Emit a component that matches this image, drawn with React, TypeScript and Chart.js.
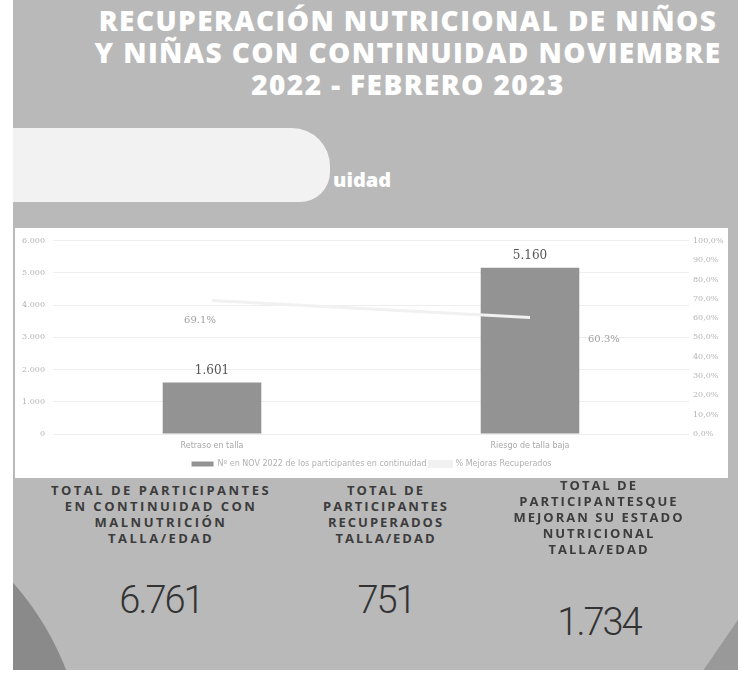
import React, { useEffect, useRef } from "react";
import { Chart, registerables } from "chart.js";

Chart.register(...registerables);

const categories = ["Retraso en talla", "Riesgo de talla baja"];
const barValues = [1601, 5160];
const lineValues = [69.1, 60.3];
const barLabel = "Nº en NOV 2022 de los participantes en continuidad";
const lineLabel = "% Mejoras Recuperados";
const leftTicks = [0, 1000, 2000, 3000, 4000, 5000, 6000];
const rightTicks = [0, 10, 20, 30, 40, 50, 60, 70, 80, 90, 100];

const titleLines = [
  "RECUPERACIÓN NUTRICIONAL DE NIÑOS",
  "Y NIÑAS CON CONTINUIDAD NOVIEMBRE",
  "2022 - FEBRERO 2023",
];
const statHeaders = [
  ["TOTAL DE PARTICIPANTES", "EN CONTINUIDAD CON", "MALNUTRICIÓN", "TALLA/EDAD"],
  ["TOTAL DE", "PARTICIPANTES", "RECUPERADOS", "TALLA/EDAD"],
  ["TOTAL DE", "PARTICIPANTESQUE", "MEJORAN SU ESTADO", "NUTRICIONAL", "TALLA/EDAD"],
];
const statValues = ["6.761", "751", "1.734"];

const fmtThousands = (v: number) =>
  Math.round(v).toString().replace(/\B(?=(\d{3})+(?!\d))/g, ".");

const labelsPlugin = {
  id: "valueLabels",
  afterDatasetsDraw(chart: any) {
    const ctx = chart.ctx;
    ctx.save();
    const barMeta = chart.getDatasetMeta(1);
    barMeta.data.forEach((el: any, i: number) => {
      ctx.font = "12px 'DejaVu Serif', serif";
      ctx.fillStyle = "#555555";
      ctx.textAlign = "center";
      ctx.textBaseline = "bottom";
      ctx.fillText(fmtThousands(barValues[i]), el.x, el.y - 6);
    });
    const lineMeta = chart.getDatasetMeta(0);
    lineMeta.data.forEach((el: any, i: number) => {
      ctx.font = "10px 'DejaVu Serif', serif";
      ctx.fillStyle = "#a0a0a0";
      ctx.textBaseline = "middle";
      const txt = lineValues[i].toFixed(1) + "%";
      if (i === 0) {
        ctx.textAlign = "center";
        ctx.fillText(txt, el.x - 12, el.y + 20);
      } else {
        ctx.textAlign = "left";
        ctx.fillText(txt, el.x + 58, el.y + 22);
      }
    });
    ctx.restore();
  },
};

function ChartBox() {
  const ref = useRef<HTMLCanvasElement | null>(null);
  useEffect(() => {
    if (!ref.current) return;
    const chart = new Chart(ref.current, {
      type: "bar",
      data: {
        labels: categories,
        datasets: [
          {
            type: "line",
            label: lineLabel,
            data: lineValues,
            yAxisID: "y1",
            borderColor: "#f1f1f1",
            backgroundColor: "#f1f1f1",
            borderWidth: 3,
            pointRadius: 0,
            order: 0,
          } as any,
          {
            type: "bar",
            label: barLabel,
            data: barValues,
            yAxisID: "y",
            backgroundColor: "#939393",
            barPercentage: 0.62,
            categoryPercentage: 0.5,
            order: 1,
          },
        ],
      },
      options: {
        animation: false,
        responsive: false,
        maintainAspectRatio: false,
        layout: { padding: { top: 7, left: 0, right: 0, bottom: 0 } },
        plugins: {
          tooltip: { enabled: false },
          legend: {
            position: "bottom",
            reverse: true,
            labels: {
              font: { size: 8, family: "'DejaVu Sans', sans-serif" },
              color: "#b0b0b0",
              boxWidth: 22,
              boxHeight: 5,
              padding: 3,
            },
          },
        },
        scales: {
          x: {
            grid: { display: false, drawTicks: false },
            border: { display: false },
            ticks: {
              color: "#a8a8a8",
              font: { size: 8, family: "'DejaVu Sans', sans-serif" },
              padding: 7,
            },
            afterFit: (s: any) => {
              s.height = 23;
            },
          },
          y: {
            position: "left",
            min: 0,
            max: 6000,
            afterBuildTicks: (s: any) => {
              s.ticks = leftTicks.map((v) => ({ value: v }));
            },
            ticks: {
              color: "#b4b4b4",
              font: { size: 8, family: "'DejaVu Serif', serif" },
              callback: (v: any) => fmtThousands(Number(v)),
              padding: 8,
            },
            grid: { color: "#eeeeee", drawTicks: false },
            border: { display: false },
            afterFit: (s: any) => {
              s.width = 38;
            },
          },
          y1: {
            position: "right",
            min: 0,
            max: 100,
            afterBuildTicks: (s: any) => {
              s.ticks = rightTicks.map((v) => ({ value: v }));
            },
            ticks: {
              color: "#b4b4b4",
              font: { size: 8, family: "'DejaVu Serif', serif" },
              callback: (v: any) => Number(v).toFixed(1).replace(".", ",") + "%",
              padding: 4,
            },
            grid: { display: false, drawTicks: false },
            border: { display: false },
            afterFit: (s: any) => {
              s.width = 39;
            },
          },
        },
      },
      plugins: [labelsPlugin],
    });
    return () => chart.destroy();
  }, []);
  return <canvas ref={ref} width={713} height={250} style={{ display: "block" }} />;
}

export default function App() {
  const centers = [161, 386, 599];
  const headerTops = [482, 482, 477];
  const numberTops = [575, 575, 597];
  const spacing = [2.5, 2, 2];
  return (
    <div
      style={{
        position: "absolute",
        left: 0,
        top: 0,
        width: 742,
        height: 675,
        background: "#ffffff",
        overflow: "hidden",
        fontFamily: "'Open Sans', sans-serif",
      }}
    >
      <div
        style={{
          position: "absolute",
          left: 13,
          top: 0,
          width: 725,
          height: 670,
          background: "#b9b9b9",
          overflow: "hidden",
        }}
      >
        {/* bottom decorations */}
        <div
          style={{
            position: "absolute",
            left: -213 - 285,
            top: 772 - 285,
            width: 570,
            height: 570,
            borderRadius: "50%",
            background: "#8a8a8a",
          }}
        />
        <div
          style={{
            position: "absolute",
            left: 685,
            top: 598,
            width: 55,
            height: 80,
            background: "#999999",
            clipPath: "polygon(100% 0%, 100% 100%, 0% 100%)",
          }}
        />
        {/* title */}
        <div
          style={{
            position: "absolute",
            left: 40,
            top: 4,
            width: 710,
            textAlign: "center",
            color: "#ffffff",
            fontWeight: 800,
            fontSize: 28,
            lineHeight: "32px",
            letterSpacing: 1.4,
          }}
        >
          {titleLines.map((t, i) => (
            <div key={i}>{t}</div>
          ))}
        </div>
        {/* subtitle swoosh */}
        <div
          style={{
            position: "absolute",
            left: 0,
            top: 128,
            width: 317,
            height: 74,
            background: "#f2f2f2",
            borderRadius: "0 38px 30px 0",
          }}
        />
        <div
          style={{
            position: "absolute",
            left: 320,
            top: 166,
            color: "#ffffff",
            fontWeight: 800,
            fontSize: 20,
          }}
        >
          uidad
        </div>
        {/* chart box */}
        <div
          style={{
            position: "absolute",
            left: 2,
            top: 228,
            width: 713,
            height: 250,
            background: "#ffffff",
          }}
        >
          <ChartBox />
        </div>
        {/* stats */}
        {centers.map((c, i) => (
          <React.Fragment key={i}>
            <div
              style={{
                position: "absolute",
                left: c - 13 - 140,
                top: headerTops[i],
                width: 280,
                textAlign: "center",
                color: "#3c3c3c",
                fontWeight: 700,
                fontSize: 13,
                lineHeight: "16px",
                letterSpacing: spacing[i],
              }}
            >
              {statHeaders[i].map((t, j) => (
                <div key={j}>{t}</div>
              ))}
            </div>
            <div
              style={{
                position: "absolute",
                left: c - 13 - 100,
                top: numberTops[i],
                width: 200,
                textAlign: "center",
                color: "#333333",
                fontFamily: "Roboto, sans-serif",
                fontWeight: 300,
                fontSize: 38,
                letterSpacing: -2,
                lineHeight: "50px",
              }}
            >
              {statValues[i]}
            </div>
          </React.Fragment>
        ))}
      </div>
    </div>
  );
}
